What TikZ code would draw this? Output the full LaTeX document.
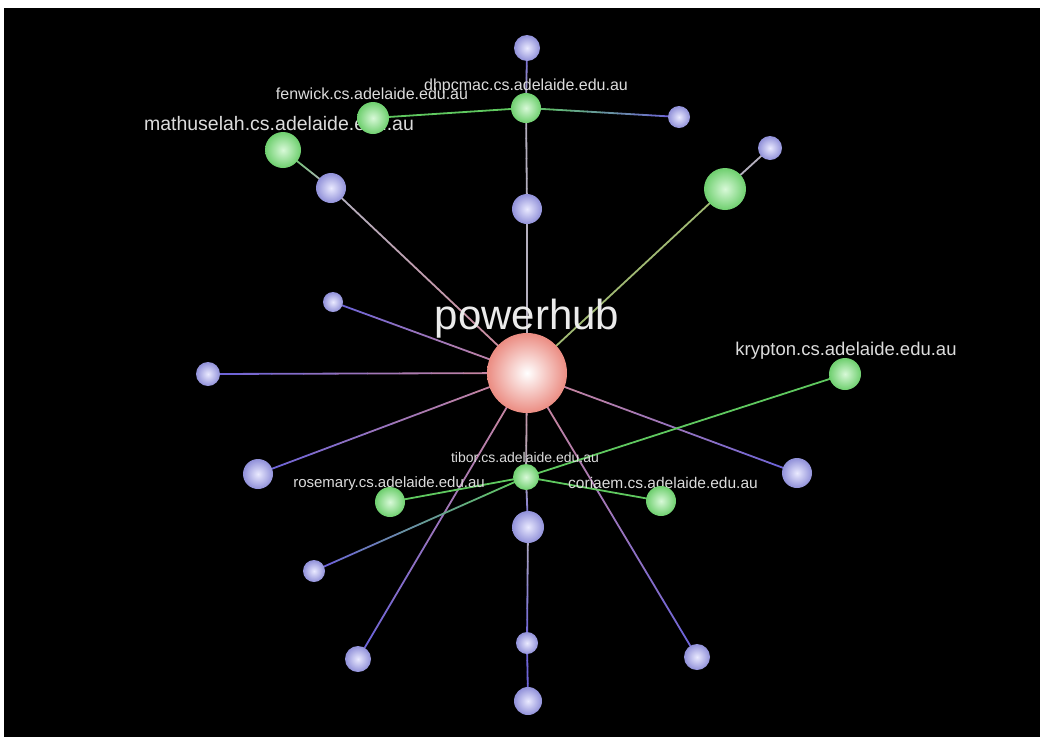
\documentclass[tikz,border=0pt]{standalone}
\usepackage{fontspec}
\setmainfont{Liberation Sans}
\usetikzlibrary{calc}

\pgfdeclarelayer{backdrop}
\pgfdeclarelayer{edges}
\pgfdeclarelayer{labels}
\pgfsetlayers{backdrop,edges,labels,main}

\definecolor{lav}{RGB}{170,170,255}
\definecolor{grn}{RGB}{125,235,125}
\definecolor{hubc}{RGB}{235,140,130}
\definecolor{lblc}{RGB}{220,220,220}
\definecolor{epink}{RGB}{205,135,155}
\definecolor{eblue}{RGB}{110,100,215}
\definecolor{egreen}{RGB}{95,200,95}
\definecolor{egray}{RGB}{180,175,190}
\definecolor{eolive}{RGB}{160,185,115}

\tikzset{
  edgeline/.style={line width=1.8pt, line cap=round},
  blueball/.style={circle, inner sep=0pt, minimum size=#1, shading=radial,
    inner color=lav!25!white, outer color=lav!85!black},
  greenball/.style={circle, inner sep=0pt, minimum size=#1, shading=radial,
    inner color=grn!30!white, outer color=grn!88!black},
  hubball/.style={circle, inner sep=0pt, minimum size=#1, shading=radial,
    inner color=white, outer color=hubc},
  hostlabel/.style={text=lblc, inner sep=0pt, font=\fontsize{#1}{#1}\selectfont},
}

% connector whose colour blends from #3 at node #1 to #4 at node #2
\newcommand{\blendedge}[4]{%
  \foreach \k in {0,...,9}{%
    \pgfmathtruncatemacro{\mixpct}{100-\k*100/9}%
    \pgfmathsetmacro{\ta}{\k/10}%
    \pgfmathsetmacro{\tb}{(\k+1)/10}%
    \draw[edgeline, color=#3!\mixpct!#4] ($(#1)!\ta!(#2)$) -- ($(#1)!\tb!(#2)$);
  }%
}

\begin{document}
\begin{tikzpicture}[x=1pt, y=-1pt]
  \useasboundingbox (0,0) rectangle (1040,737);
  \begin{pgfonlayer}{backdrop}
    \fill[white] (0,0) rectangle (1040,737);
    \fill[black] (4,8) rectangle (1040,737);
  \end{pgfonlayer}

  % hub
  \node[hubball=80pt] (hub) at (527,373) {};

  % leaf hosts
  \node[blueball=26pt] (b1)  at (527,48)  {};
  \node[blueball=30pt] (b2)  at (527,209) {};
  \node[blueball=22pt] (b3)  at (679,117) {};
  \node[blueball=24pt] (b4)  at (770,148) {};
  \node[blueball=30pt] (b5)  at (331,188) {};
  \node[blueball=20pt] (b6)  at (333,302) {};
  \node[blueball=24pt] (b7)  at (208,374) {};
  \node[blueball=30pt] (b8)  at (258,474) {};
  \node[blueball=22pt] (b9)  at (314,571) {};
  \node[blueball=26pt] (b10) at (358,659) {};
  \node[blueball=32pt] (b11) at (528,527) {};
  \node[blueball=22pt] (b12) at (527,643) {};
  \node[blueball=28pt] (b13) at (528,701) {};
  \node[blueball=26pt] (b14) at (697,657) {};
  \node[blueball=30pt] (b15) at (797,473) {};

  % named hosts
  \node[greenball=30pt] (dhp) at (526,108) {};
  \node[greenball=32pt] (fen) at (373,118) {};
  \node[greenball=36pt] (mat) at (283,150) {};
  \node[greenball=42pt] (grr) at (725,189) {};
  \node[greenball=32pt] (kry) at (845,374) {};
  \node[greenball=26pt] (tib) at (526,477) {};
  \node[greenball=30pt] (ros) at (390,502) {};
  \node[greenball=30pt] (cor) at (661,501) {};

  \node[text={rgb,255:red,235;green,235;blue,235}, inner sep=0pt,
        font=\fontsize{42}{42}\selectfont] (lhub) at (527,319) {powerhub};

  \begin{pgfonlayer}{labels}
    \node[hostlabel=16] (ldhp) at (526,86)  {dhpcmac.cs.adelaide.edu.au};
    \node[hostlabel=16] (lfen) at (372,94)  {fenwick.cs.adelaide.edu.au};
    \node[hostlabel=19.5] (lmat) at (279,124) {mathuselah.cs.adelaide.edu.au};
    \node[hostlabel=18.5] (lkry) at (846,351) {krypton.cs.adelaide.edu.au};
    \node[hostlabel=14] (ltib) at (525,457) {tibor.cs.adelaide.edu.au};
    \node[hostlabel=15] (lros) at (389,484) {rosemary.cs.adelaide.edu.au};
    \node[hostlabel=15.5] (lcor) at (663,483) {coriaem.cs.adelaide.edu.au};
  \end{pgfonlayer}

  \begin{pgfonlayer}{edges}
    % spokes from the hub
    \blendedge{hub}{b2}{egray}{egray}
    \blendedge{b2}{dhp}{egray}{egray}
    \blendedge{dhp}{b1}{egray}{eblue}
    \blendedge{hub}{b5}{epink}{egray}
    \blendedge{hub}{grr}{eolive}{eolive}
    \blendedge{hub}{b6}{epink}{eblue}
    \blendedge{hub}{b7}{epink}{eblue}
    \blendedge{hub}{b8}{epink}{eblue}
    \blendedge{hub}{b15}{epink}{eblue}
    \blendedge{hub}{b10}{epink}{eblue}
    \blendedge{hub}{b14}{epink}{eblue}
    \blendedge{hub}{tib}{epink}{egray}
    \blendedge{tib}{b11}{egray}{eblue}
    \blendedge{b11}{b12}{egray}{eblue}
    \blendedge{b12}{b13}{eblue}{eblue}
    % host-to-host links
    \blendedge{fen}{dhp}{egreen}{egreen}
    \blendedge{dhp}{b3}{egreen}{eblue}
    \blendedge{mat}{b5}{egreen}{egray}
    \blendedge{grr}{b4}{egray}{egray}
    \blendedge{kry}{tib}{egreen}{egreen}
    \blendedge{tib}{b9}{egreen}{eblue}
    \blendedge{tib}{ros}{egreen}{egreen}
    \blendedge{tib}{cor}{egreen}{egreen}
  \end{pgfonlayer}
\end{tikzpicture}
\end{document}
